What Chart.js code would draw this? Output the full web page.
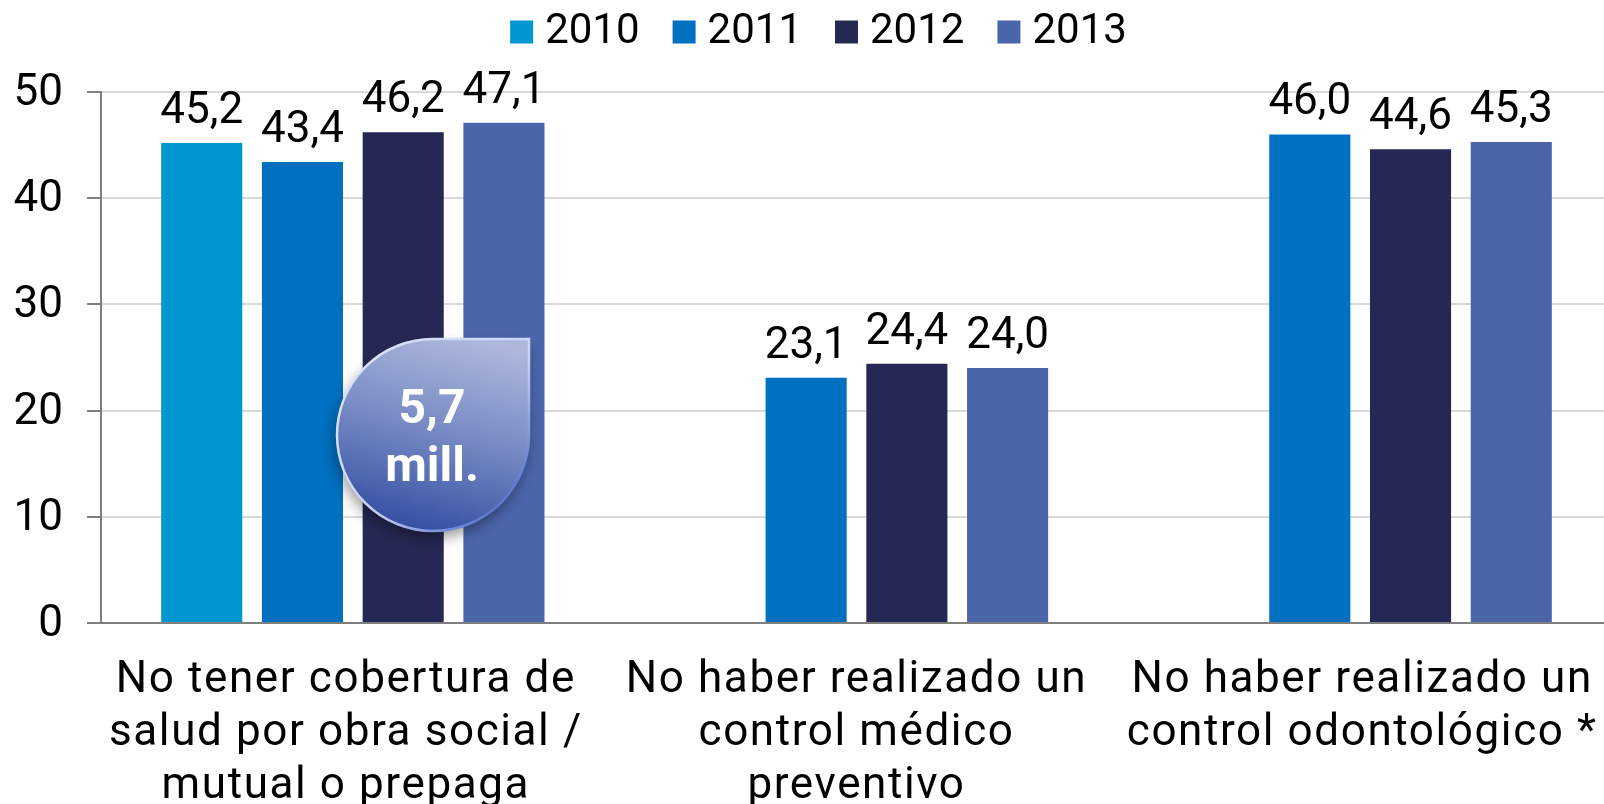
<!DOCTYPE html>
<html><head><meta charset="utf-8">
<style>html,body{margin:0;padding:0;background:#fff;width:1604px;height:804px;overflow:hidden}canvas{display:block}</style>
<script src="https://cdn.jsdelivr.net/npm/chart.js@4"></script>
</head><body><div style="width:1604px;height:804px;overflow:hidden"><canvas id="c" width="1612" height="804" style="width:1612px;height:804px"></canvas></div>
<script>
const categories=[["No tener cobertura de","salud por obra social /","mutual o prepaga"],["No haber realizado un","control médico","preventivo"],["No haber realizado un","control odontológico *"]];
const years=["2010","2011","2012","2013"];
const values2010=[45.2,null,null];
const values2011=[43.4,23.1,46.0];
const values2012=[46.2,24.4,44.6];
const values2013=[47.1,24.0,45.3];
const colors=["#0096D2","#0070C0","#262854","#4B65AB"];
const yTicks=[0,10,20,30,40,50];
const badgeLines=["5,7","mill."];
const labelNudge=[-7,0,2];
const FONT="Roboto";

const labelsPlugin={id:"vals",afterDatasetsDraw(chart){
  const ctx=chart.ctx;ctx.save();ctx.fillStyle="#000";ctx.font="44px "+FONT;ctx.textAlign="center";ctx.textBaseline="alphabetic";
  chart.data.datasets.forEach((ds,i)=>{chart.getDatasetMeta(i).data.forEach((el,j)=>{
    if(ds.data[j]==null)return;
    ctx.fillText(ds.data[j].toFixed(1).replace(".",","),el.x,el.y-20);
  });});ctx.restore();
}};
const badgePlugin={id:"badge",afterDraw(chart){
  const ctx=chart.ctx,cx=433,cy=435,r=96;
  ctx.save();
  const path=new Path2D();path.moveTo(cx+r,cy-r);path.lineTo(cx,cy-r);path.arc(cx,cy,r,-Math.PI/2,0,true);path.closePath();
  const g=ctx.createLinearGradient(cx+40,cy-r,cx-10,cy+r);
  g.addColorStop(0,"#AEB8DD");g.addColorStop(.45,"#7C8EC6");g.addColorStop(.8,"#5068B0");g.addColorStop(1,"#3650A2");
  ctx.shadowColor="rgba(0,0,0,.4)";ctx.shadowBlur=14;ctx.shadowOffsetX=-2;ctx.shadowOffsetY=7;
  ctx.fillStyle=g;ctx.fill(path);
  ctx.shadowColor="transparent";
  const s=ctx.createLinearGradient(cx-r,cy-r,cx+r,cy+r);
  s.addColorStop(0,"#DDE4F8");s.addColorStop(.55,"#C9D4F4");s.addColorStop(.85,"#5E7AD0");s.addColorStop(1,"#EAF0FF");
  ctx.strokeStyle=s;ctx.lineWidth=2.5;ctx.stroke(path);
  ctx.fillStyle="#fff";ctx.font="bold 48px "+FONT;ctx.textAlign="center";ctx.textBaseline="alphabetic";
  ctx.fillText(badgeLines[0],cx-1,423);ctx.fillText(badgeLines[1],cx-1,481);
  ctx.restore();
}};
const layoutPlugin={id:"lay",beforeLayout(chart){
  const l=chart.legend;
  if(l&&!l._w){l._w=true;const f=l.fit.bind(l);l.fit=function(){f();this.height=92;};}
},afterLayout(chart){
  const l=chart.legend;if(l){l.left+=17;l.right+=17;l.top=-31;l.bottom=61;}
},beforeDraw(chart){
  const x=chart.scales.x,ctx=chart.ctx;
  x.getLabelItems(chart.chartArea).forEach((it,i)=>{if(!it._n){it._n=true;it.options.translation[0]+=labelNudge[i];}});
  if(!x._w){x._w=true;const o=x.drawLabels;x.drawLabels=function(a){ctx.letterSpacing="1.6px";o.call(this,a);ctx.letterSpacing="0px";};}
}};
new Chart(document.getElementById("c"),{
  type:"bar",
  data:{labels:categories,datasets:[values2010,values2011,values2012,values2013].map((d,i)=>({label:years[i],data:d,backgroundColor:colors[i],borderWidth:0,categoryPercentage:.8,barPercentage:.805}))},
  options:{responsive:false,animation:false,
    layout:{padding:0},
    plugins:{tooltip:{enabled:false},
      legend:{display:true,position:"top",labels:{color:"#000",font:{family:FONT,size:42},boxWidth:5,boxHeight:5,padding:42,
        generateLabels(chart){return chart.data.datasets.map((d,i)=>({text:d.label,fillStyle:d.backgroundColor,strokeStyle:d.backgroundColor,lineWidth:18,datasetIndex:i,hidden:false}));}}}},
    scales:{
      x:{grid:{display:false},border:{color:"#7F7F7F",width:2},
        ticks:{color:"#000",font:{family:FONT,size:44,lineHeight:1.2},padding:24,maxRotation:0,minRotation:0,autoSkip:false},
        afterFit(s){s.height=181;}},
      y:{min:0,max:50,afterBuildTicks(s){s.ticks=yTicks.map(v=>({value:v}));},
        grid:{color:"#D9D9D9",lineWidth:2,tickColor:"#7F7F7F",tickLength:14},border:{color:"#7F7F7F",width:2},
        ticks:{color:"#000",font:{family:FONT,size:44},padding:24,labelOffset:2},
        afterFit(s){s.width=101;}}
    }},
  plugins:[layoutPlugin,labelsPlugin,badgePlugin]
});
</script></body></html>
